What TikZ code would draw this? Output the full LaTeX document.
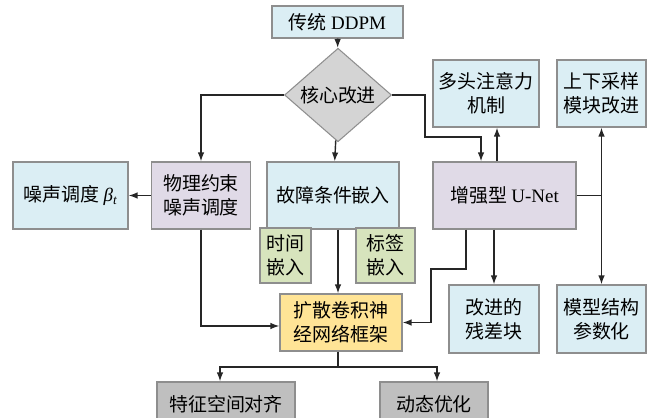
\documentclass[tikz,border=0pt]{standalone}
\usepackage{fontspec}
\setmainfont{Liberation Serif}
\newfontfamily\cjk{Noto Sans CJK SC}
\usetikzlibrary{shapes.geometric,arrows.meta}
\definecolor{boxline}{HTML}{8E8E8E}
\definecolor{boxblue}{HTML}{DBEEF4}
\definecolor{boxpurple}{HTML}{E0DAE7}
\definecolor{boxgreen}{HTML}{D7E4BD}
\definecolor{boxyellow}{HTML}{FFE496}
\definecolor{boxgray}{HTML}{BFBFBF}
\definecolor{diagray}{HTML}{D4D4D4}
\newcommand{\ltn}[1]{{\rmfamily #1}}
\begin{document}
\begin{tikzpicture}[x=0.02cm,y=-0.02cm,
    box/.style={rectangle,draw=boxline,line width=0.6pt,inner sep=0pt,align=center,font={\cjk\fontsize{10.8pt}{13.5pt}\selectfont}},
    blue box/.style={box,fill=boxblue},
    purple box/.style={box,fill=boxpurple},
    green box/.style={box,fill=boxgreen},
    gray box/.style={box,fill=boxgray},
    arr/.style={-{Latex[length=1.8mm,width=1.3mm]},line width=0.8pt,draw=black!85},
    line/.style={line width=0.8pt,draw=black!85}]
        \useasboundingbox (0,0) rectangle (656,418);
        \clip (0,0) rectangle (656,418);

        \node[blue box, minimum width=2.62cm, minimum height=0.64cm] at (337.5,22) (ddpm) {传统 \ltn{DDPM}};
        \node[box, diamond, fill=diagray, minimum width=2.14cm, minimum height=1.68cm] at (338,95) (core) {核心改进};
        \node[blue box, minimum width=2.3cm, minimum height=1.34cm] at (70.5,195.5) (beta) {噪声调度 \ltn{\itshape β\textsubscript{t}}};
        \node[purple box, minimum width=1.98cm, minimum height=1.34cm] at (201,195.5) (phys) {物理约束\\噪声调度};
        \node[blue box, minimum width=2.64cm, minimum height=1.34cm] at (333,195.5) (fault) {故障条件嵌入};
        \node[purple box, minimum width=2.86cm, minimum height=1.34cm] at (504.5,195.5) (unet) {增强型 \ltn{U-Net}};
        \node[blue box, minimum width=2.12cm, minimum height=1.34cm] at (486,93.5) (attn) {多头注意力\\机制};
        \node[blue box, minimum width=1.78cm, minimum height=1.34cm] at (601.5,93.5) (updown) {上下采样\\模块改进};
        \node[green box, minimum width=1.02cm, minimum height=1.1cm] at (285.5,255.5) (time) {时间\\嵌入};
        \node[green box, minimum width=1.18cm, minimum height=1.1cm] at (385.5,255.5) (label) {标签\\嵌入};
        \node[box, fill=boxyellow, minimum width=2.44cm, minimum height=1.14cm] at (341,322.5) (diff) {扩散卷积神\\经网络框架};
        \node[blue box, minimum width=1.8cm, minimum height=1.36cm] at (494,319) (resid) {改进的\\残差块};
        \node[blue box, minimum width=1.78cm, minimum height=1.36cm] at (601.5,319) (param) {模型结构\\参数化};
        \node[gray box, minimum width=2.76cm, minimum height=0.88cm] at (226,404) (feat) {特征空间对齐};
        \node[gray box, minimum width=2.16cm, minimum height=0.88cm] at (434,404) (dyn) {动态优化};

        \draw[arr] (ddpm) -- (core);
        \draw[arr] (core.west) -| (phys.north);
        \draw[arr] (core) -- (fault);
        \draw[arr] (core.east) -| (425,137) -| ([xshift=-0.47cm]unet.north);
        \draw[arr] (phys) -- (beta);
        \draw[arr] ([xshift=-0.15cm]unet.north) -- ([xshift=-0.15cm]unet.north |- attn.south);
        \draw[line] (unet.east) -- (unet.east -| updown.south) coordinate (hub);
        \draw[arr] (hub) -- (updown.south);
        \draw[arr] (hub) -- (param.north);
        \draw[arr] (unet.south -| resid.north) -- (resid.north);
        \draw[arr] ([xshift=-0.77cm]unet.south) |- (431,269) |- (diff.east);
        \draw[arr] (fault.south -| core.south) -- (core.south |- diff.north);
        \draw[arr] (phys.south) |- ([yshift=-0.07cm]diff.west);
        \coordinate (bus) at (338,367);
        \draw[line] (core.south |- diff.south) -- (bus);
        \draw[arr] (bus) -| ([xshift=-0.12cm]feat.north);
        \draw[arr] (bus) -| ([xshift=0.06cm]dyn.north);
\end{tikzpicture}
\end{document}
